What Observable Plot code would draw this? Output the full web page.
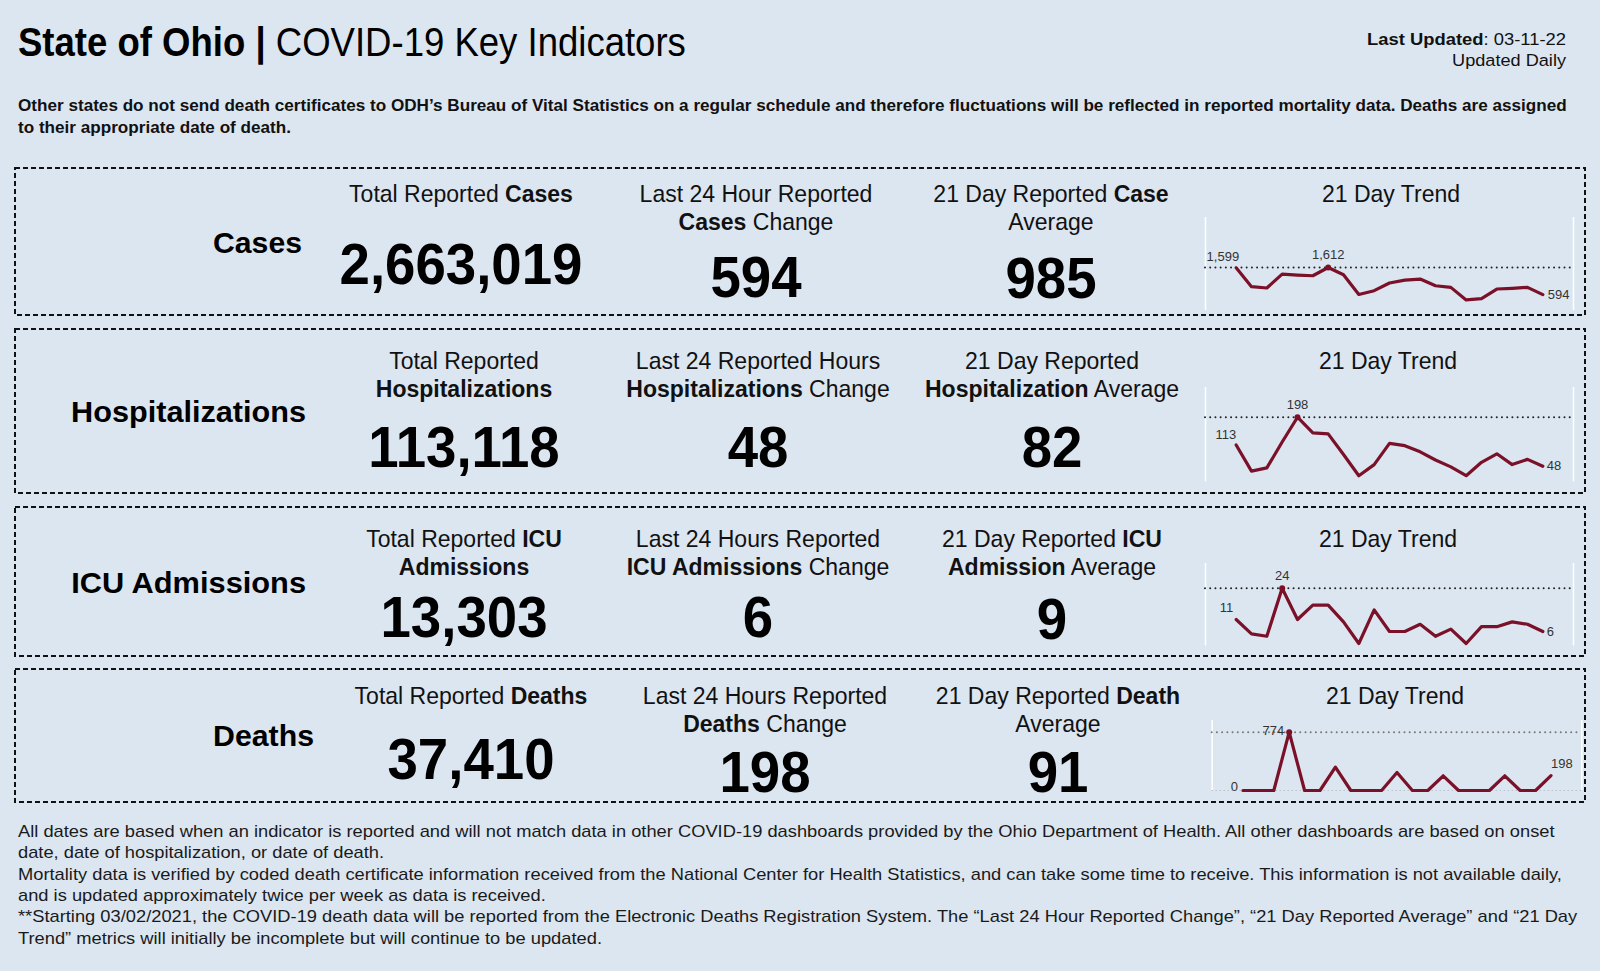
<!DOCTYPE html>
<html><head><meta charset="utf-8">
<script src="https://cdn.jsdelivr.net/npm/d3@7"></script>
<script src="https://cdn.jsdelivr.net/npm/@observablehq/plot@0.6"></script>
<style>
html,body{margin:0;padding:0;background:#dce6f1;}
#page{position:relative;width:1600px;height:971px;overflow:hidden;background:#dce6f1;font-family:"Liberation Sans",Arial,sans-serif;}
#page svg{position:absolute;}
text{white-space:pre;}
</style></head><body><div id="page"></div>
<script>
// ---------- DATA ----------
const rowNames = ["Cases", "Hospitalizations", "ICU Admissions", "Deaths"];
const totals = [2663019, 113118, 13303, 37410];
const last24 = [594, 48, 6, 198];
const avg21 = [985, 82, 9, 91];
const casesTrend = [1599, 892, 843, 1364, 1327, 1302, 1612, 1339, 600, 743, 1029, 1140, 1178, 929, 867, 396, 445, 805, 830, 867, 594];
const hospTrend = [113, 33, 43, 122, 198, 150, 147, 84, 19, 53, 118, 111, 92, 67, 46, 19, 60, 86, 53, 69, 48];
const icuTrend = [11, 5, 4, 24, 11, 17, 17, 10, 1, 15, 6, 6, 9, 4, 7, 1, 8, 8, 10, 9, 6];
const deathsTrend = [0, 0, 0, 774, 0, 0, 310, 0, 0, 0, 240, 0, 0, 195, 0, 0, 0, 195, 0, 0, 198];
const trendTitle = "21 Day Trend";
const col1Headers = [
  [[["Total Reported ", 0], ["Cases", 1]]],
  [[["Total Reported", 0]], [["Hospitalizations", 1]]],
  [[["Total Reported ", 0], ["ICU", 1]], [["Admissions", 1]]],
  [[["Total Reported ", 0], ["Deaths", 1]]]
];
const col2Headers = [
  [[["Last 24 Hour Reported", 0]], [["Cases", 1], [" Change", 0]]],
  [[["Last 24 Reported Hours", 0]], [["Hospitalizations", 1], [" Change", 0]]],
  [[["Last 24 Hours Reported", 0]], [["ICU Admissions", 1], [" Change", 0]]],
  [[["Last 24 Hours Reported", 0]], [["Deaths", 1], [" Change", 0]]]
];
const col3Headers = [
  [[["21 Day Reported ", 0], ["Case", 1]], [["Average", 0]]],
  [[["21 Day Reported", 0]], [["Hospitalization", 1], [" Average", 0]]],
  [[["21 Day Reported ", 0], ["ICU", 1]], [["Admission", 1], [" Average", 0]]],
  [[["21 Day Reported ", 0], ["Death", 1]], [["Average", 0]]]
];
const titleParts = [["State of Ohio | ", 1], ["COVID-19 Key Indicators", 0]];
const updatedParts = [["Last Updated", 1], [": 03-11-22", 0]];
const updatedDaily = "Updated Daily";
const noteLines = [
  "Other states do not send death certificates to ODH\u2019s Bureau of Vital Statistics on a regular schedule and therefore fluctuations will be reflected in reported mortality data. Deaths are assigned",
  "to their appropriate date of death."
];
const footerLines = [
  "All dates are based when an indicator is reported and will not match data in other COVID-19 dashboards provided by the Ohio Department of Health. All other dashboards are based on onset",
  "date, date of hospitalization, or date of death.",
  "Mortality data is verified by coded death certificate information received from the National Center for Health Statistics, and can take some time to receive. This information is not available daily,",
  "and is updated approximately twice per week as data is received.",
  "**Starting 03/02/2021, the COVID-19 death data will be reported from the Electronic Deaths Registration System. The \u201cLast 24 Hour Reported Change\u201d, \u201c21 Day Reported Average\u201d and \u201c21 Day",
  "Trend\u201d metrics will initially be incomplete but will continue to be updated."
];

// ---------- LAYOUT ----------
const panelY = [[168, 315], [329, 493], [507, 656], [669, 802]];
const labelPos = [[302, 253], [306, 422], [306, 593], [314, 746]];
const labelW = [89, 235, 235, 101];
const colX = [[461, 756, 1051], [464, 758, 1052], [464, 758, 1052], [471, 765, 1058]];
const trendX = [1391, 1388, 1388, 1395];
const hdrBase = [[202, 230], [369, 397], [547, 575], [704, 732]];
const bigBase = [[284, 297, 298], [467, 467, 467], [637, 637, 639], [779, 792, 792]];

const page = d3.select("#page");
const svg = page.append("svg").attr("width", 1600).attr("height", 971).style("left", "0px").style("top", "0px");

function addText(x, y, parts, o) {
  const t = svg.append("text").attr("font-size", o.size).attr("text-anchor", o.anchor || "start")
    .attr("fill", o.fill || "#111").attr("transform", `translate(${x},${y})`);
  for (const [s, b] of parts) t.append("tspan").attr("font-weight", b ? "bold" : "normal").text(s);
  let k = o.scale || 1;
  if (o.width) k = o.width / t.node().getComputedTextLength();
  t.attr("transform", `translate(${x},${y}) scale(${k},1)`);
  return k;
}

// header
addText(18, 56, titleParts, {size: 40, width: 668, fill: "#000"});
addText(1566, 45, updatedParts, {size: 17, width: 199, anchor: "end"});
addText(1566, 66, [[updatedDaily, 0]], {size: 17, width: 114, anchor: "end"});
const nk = addText(18, 111, [[noteLines[0], 1]], {size: 16, width: 1550});
addText(18, 133, [[noteLines[1], 1]], {size: 16, scale: nk});

// footer
const footBase = [837, 858, 880, 901, 922, 944];
const fk = addText(18, footBase[0], [[footerLines[0], 0]], {size: 17, width: 1537, fill: "#1a1a1a"});
footerLines.slice(1).forEach((l, i) => addText(18, footBase[i + 1], [[l, 0]], {size: 17, scale: fk, fill: "#1a1a1a"}));

// panels
const fmt = d3.format(",");
let hk = null, bk = null;
panelY.forEach(([y0, y1], r) => {
  svg.append("rect").attr("x", 15).attr("y", y0).attr("width", 1585 - 15).attr("height", y1 - y0)
    .attr("fill", "none").attr("stroke", "#111").attr("stroke-width", 2).attr("stroke-dasharray", "5,3");
  addText(labelPos[r][0], labelPos[r][1], [[rowNames[r], 1]], {size: 30, width: labelW[r], anchor: "end", fill: "#000"});
  const heads = [col1Headers[r], col2Headers[r], col3Headers[r]];
  heads.forEach((lines, c) => {
    lines.forEach((parts, li) => {
      if (hk === null) hk = addText(colX[r][c], hdrBase[r][li], parts, {size: 24, width: 224, anchor: "middle"});
      else addText(colX[r][c], hdrBase[r][li], parts, {size: 24, scale: hk, anchor: "middle"});
    });
  });
  addText(trendX[r], hdrBase[r][0], [[trendTitle, 0]], {size: 24, scale: hk, anchor: "middle"});
  const vals = [totals[r], last24[r], avg21[r]];
  vals.forEach((v, c) => {
    if (bk === null) bk = addText(colX[r][c], bigBase[r][c], [[fmt(v), 1]], {size: 58, width: 243, anchor: "middle", fill: "#000"});
    else addText(colX[r][c], bigBase[r][c], [[fmt(v), 1]], {size: 58, scale: bk, anchor: "middle", fill: "#000"});
  });
});

// sparklines
const sparkCfg = [
  {values: casesTrend, left: 1195, top: 210, w: 390, h: 105, ml: 10, mr: 12, mt: 7, mb: 5, yMax: 3486, ref: "#222", zero: false,
   first: ["end", 3, -11], max: ["middle", 0, -13], last: ["start", 5, 0]},
  {values: hospTrend, left: 1195, top: 380, w: 390, h: 110, ml: 10, mr: 12, mt: 7, mb: 8.6, yMax: 289, ref: "#222", zero: false,
   first: ["end", 0, -10], max: ["middle", 0, -12], last: ["start", 4, 0]},
  {values: icuTrend, left: 1195, top: 555, w: 390, h: 95, ml: 10, mr: 12, mt: 8, mb: 4.6, yMax: 34.3, ref: "#222", zero: false,
   first: ["end", -3, -12], max: ["middle", 0, -12], last: ["start", 4, 0]},
  {values: deathsTrend, left: 1200, top: 710, w: 390, h: 90, ml: 11.7, mr: 8.7, mt: 10, mb: 10, yMax: 929, ref: "#777", zero: true,
   first: ["end", -5, -4], max: ["end", -5, -1], last: ["start", 0, -12]}
];
const lineColor = "#7b1129";
sparkCfg.forEach(cfg => {
  const vals = cfg.values;
  const data = vals.map((v, i) => ({i, v}));
  const iMax = d3.maxIndex(vals);
  const lbl = (d, a) => Plot.text([d], {x: "i", y: "v", text: p => fmt(p.v), textAnchor: a[0], dx: a[1], dy: a[2], fontSize: 13, fill: "#333"});
  const marks = [
    Plot.ruleX([-2, 22], {stroke: "#ffffff", strokeWidth: 1.5}),
  ];
  if (cfg.zero) marks.push(Plot.ruleY([0], {stroke: "#aab3bf", strokeWidth: 1.2, strokeDasharray: "1,3"}));
  marks.push(
    Plot.ruleY([vals[iMax]], {stroke: cfg.ref, strokeWidth: 2, strokeDasharray: "0.01,5.2", strokeLinecap: "round"}),
    Plot.line(data, {x: "i", y: "v", stroke: lineColor, strokeWidth: 3.2, strokeLinejoin: "round"}),
    Plot.dot([data[iMax]], {x: "i", y: "v", r: 3, fill: lineColor}),
    lbl(data[0], cfg.first),
    lbl(data[iMax], cfg.max),
    lbl(data[data.length - 1], cfg.last)
  );
  const el = Plot.plot({
    width: cfg.w, height: cfg.h,
    marginLeft: cfg.ml, marginRight: cfg.mr, marginTop: cfg.mt, marginBottom: cfg.mb,
    x: {domain: [-2, 22], axis: null},
    y: {domain: [0, cfg.yMax], axis: null},
    style: {background: "transparent", overflow: "visible", fontFamily: "Liberation Sans, Arial, sans-serif"},
    marks
  });
  el.style.position = "absolute";
  el.style.left = cfg.left + "px";
  el.style.top = cfg.top + "px";
  el.style.maxWidth = "none";
  page.node().appendChild(el);
});
</script></body></html>
